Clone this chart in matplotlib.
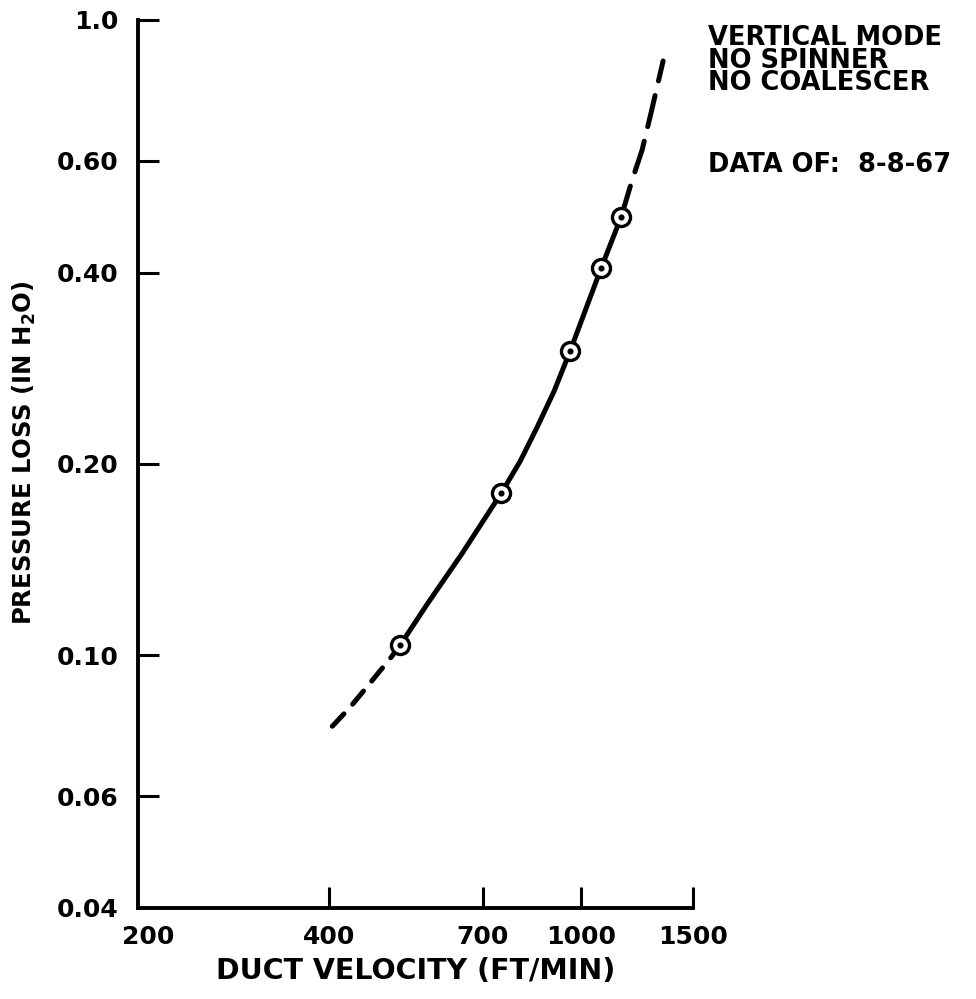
import matplotlib
matplotlib.use("Agg")
import matplotlib.pyplot as plt
from matplotlib.ticker import FixedLocator, NullLocator
from matplotlib.transforms import ScaledTranslation

plt.rcParams["font.family"] = "DejaVu Sans"
plt.rcParams["font.weight"] = "bold"

# Messpunkte
velocity = [518, 748, 960, 1075, 1156]
pressure = [0.1037, 0.180, 0.301, 0.407, 0.490]

# Ausgleichskurve (durchgezogen) und Verlaengerungen (gestrichelt)
curve_v = [518, 573, 649, 748, 801, 852, 906, 960, 1075, 1156]
curve_p = [0.1037, 0.1208, 0.1447, 0.180, 0.2020, 0.2286, 0.2604, 0.301, 0.407, 0.490]
low_v = [405, 432, 464, 500, 518]
low_p = [0.0773, 0.0828, 0.0903, 0.0989, 0.1037]
high_v = [1156, 1203, 1247, 1289, 1346]
high_p = [0.490, 0.560, 0.624, 0.716, 0.862]

xticks = [400, 700, 1000, 1500]
xlabels = ["400", "700", "1000", "1500"]
yticks = [0.04, 0.06, 0.10, 0.20, 0.40, 0.60, 1.0]
ylabels = ["0.04", "0.06", "0.10", "0.20", "0.40", "0.60", "1.0"]

notes = ["VERTICAL MODE", "NO SPINNER", "NO COALESCER"]
date_note = "DATA OF:  8-8-67"

fig = plt.figure(figsize=(9.76, 9.99), dpi=100)
ax = fig.add_axes([0.1414, 0.0911, 0.5686, 0.8889])
ax.set_xscale("log")
ax.set_yscale("log")
ax.set_xlim(200, 1500)
ax.set_ylim(0.04, 1.0)

for side in ["top", "right"]:
    ax.spines[side].set_visible(False)
for side in ["left", "bottom"]:
    ax.spines[side].set_linewidth(2.8)

ax.xaxis.set_major_locator(FixedLocator([200] + xticks))
ax.set_xticklabels(["200"] + xlabels)
ax.xaxis.set_minor_locator(NullLocator())
ax.yaxis.set_major_locator(FixedLocator(yticks))
ax.set_yticklabels(ylabels)
ax.yaxis.set_minor_locator(NullLocator())
ax.tick_params(axis="both", direction="in", length=15, width=2.2,
               labelsize=18, colors="black")
ax.tick_params(axis="x", pad=12)
ax.tick_params(axis="y", pad=14)
ax.xaxis.get_major_ticks()[0].tick1line.set_visible(False)
ax.yaxis.get_major_ticks()[0].tick1line.set_visible(False)

# "200" etwas nach rechts versetzt
lbl = ax.get_xticklabels()[0]
lbl.set_transform(lbl.get_transform() + ScaledTranslation(0.10, 0, fig.dpi_scale_trans))

lw = 3.6
ax.plot(curve_v, curve_p, color="black", lw=lw, solid_capstyle="round",
        solid_joinstyle="round", zorder=2)
ax.plot(low_v, low_p, color="black", lw=lw, dash_capstyle="round",
        dashes=(3.4, 2.6), zorder=2)
ax.plot(high_v, high_p, color="black", lw=lw, dash_capstyle="round",
        dashes=(6.4, 3.0), zorder=2)

ax.plot(velocity, pressure, "o", ms=13, mfc="white", mec="black", mew=2.4, zorder=3)
ax.plot(velocity, pressure, "o", ms=3.4, color="black", zorder=4)

ax.set_xlabel("DUCT VELOCITY (FT/MIN)", fontsize=20.5, fontweight="bold", labelpad=6)
ax.set_ylabel("PRESSURE LOSS (IN H$_\\mathbf{2}$O)", fontsize=17.5,
              fontweight="bold")
ax.yaxis.set_label_coords(-0.18, 0.513)

fig.text(708 / 976, 1 - 25 / 999, "\n".join(notes), fontsize=18.5,
         va="top", ha="left", linespacing=0.83)
fig.text(708 / 976, 1 - 152 / 999, date_note, fontsize=18.5, va="top", ha="left")

fig.savefig("out.png", dpi=100)
